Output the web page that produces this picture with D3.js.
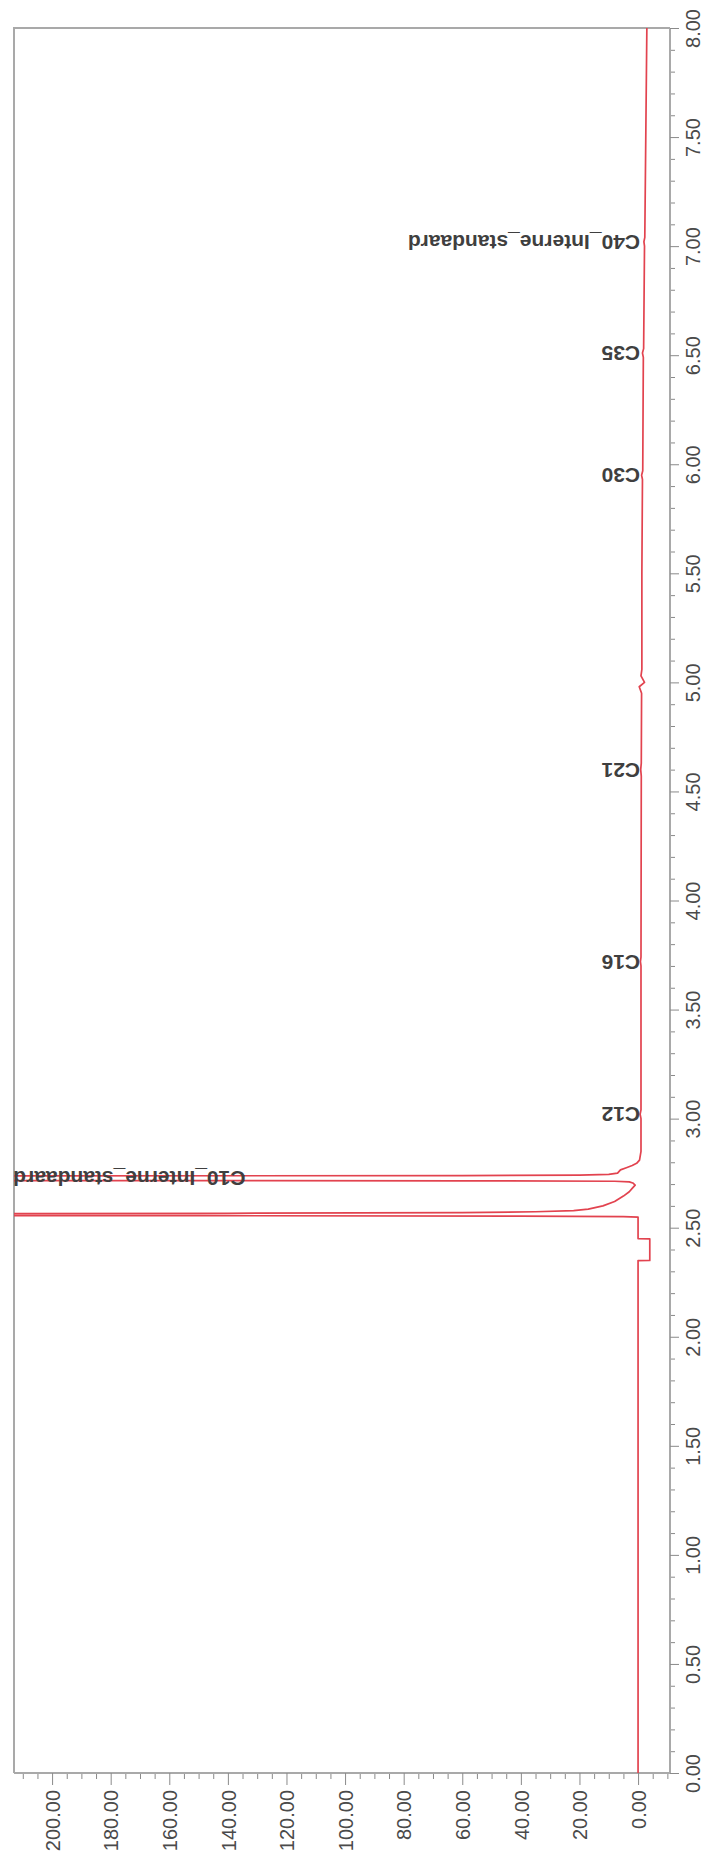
<!DOCTYPE html>
<html>
<head>
<meta charset="utf-8">
<script src="https://d3js.org/d3.v7.min.js"></script>
<style>
  body { margin: 0; background: #fff; }
  svg { display: block; }
  .tick text { font-family: "Liberation Sans", Arial, sans-serif; }
</style>
</head>
<body>
<svg id="chrom" width="726" height="1855"></svg>
<script>
'use strict'

// chromatogram, drawn turned on its side: time runs up, signal runs left

// retention time (min) and detector signal
var timeMin = [0.00, 1.00, 2.00, 2.349, 2.350, 2.449, 2.450, 2.548,
    2.551, 2.553, 2.555, 2.557, 2.563, 2.566, 2.569, 2.573, 2.578, 2.585,
    2.600, 2.620, 2.645, 2.665, 2.680, 2.695, 2.705, 2.710, 2.713, 2.715,
    2.717, 2.736, 2.739, 2.741, 2.744, 2.750, 2.765, 2.775, 2.785, 2.795,
    2.810, 2.850, 3.00, 3.02, 3.04, 3.70, 3.72, 3.74, 4.57, 4.60, 4.63,
    4.95, 4.98, 5.00, 5.03, 5.06, 5.50, 5.93, 5.95, 5.97, 6.49, 6.51, 6.53,
    7.00, 7.02, 7.04, 8.00];
var signal = [0, 0, 0, 0, -4, -4, 0, 0,
    5, 40, 150, 320, 320, 140, 60, 35, 22, 17,
    12, 8, 5, 3, 2, 1.0, 1.8, 3, 8, 60,
    320, 320, 60, 20, 10, 7, 6, 4, 2, 0.5,
    -0.5, -1, -1, -0.7, -1, -1, -0.8, -1, -1.1, -0.9, -1.1,
    -1.2, -0.4, -2.2, -1.0, -1.3, -1.3, -1.5, -1.2, -1.6, -1.8, -1.5, -1.9,
    -2.2, -2.0, -2.3, -3.0];

// named peaks
var peakNames = ["C10_Interne_standaard", "C12", "C16", "C21", "C30", "C35", "C40_Interne_standaard"];
var peakTimes = [2.728, 3.02, 3.72, 4.60, 5.95, 6.51, 7.02];

// axis ticks
var signalTicks = [0, 20, 40, 60, 80, 100, 120, 140, 160, 180, 200];
var timeTicks = [0, 0.5, 1, 1.5, 2, 2.5, 3, 3.5, 4, 4.5, 5, 5.5, 6, 6.5, 7, 7.5, 8];

var svg = d3.select("#chrom");
var plotLeft = 14, plotRight = 670, plotTop = 28, plotBottom = 1773;
var red = "#e2434f", frameGrey = "#a9a9a9", textGrey = "#4a4a4a";

var timeScale = d3.scaleLinear().domain([0, 8]).range([plotBottom, plotTop]);
var signalScale = d3.scaleLinear().domain([-10.9, 213]).range([plotRight, plotLeft]);

// frame (left + top)
svg.append("path")
    .attr("d", "M" + plotLeft + "," + plotBottom + "V" + plotTop + "H" + plotRight)
    .attr("fill", "none").attr("stroke", frameGrey).attr("stroke-width", 2);

// signal axis along the bottom
var fmt = d3.format(".2f");
var minorSignal = d3.range(-10, 213, 5).filter(function(v){ return v % 20 !== 0; });

var sAxis = svg.append("g").attr("transform", "translate(0," + plotBottom + ")");
sAxis.call(d3.axisBottom(signalScale).tickValues(minorSignal).tickSize(6).tickFormat(""));
sAxis.append("g").call(d3.axisBottom(signalScale).tickValues(signalTicks).tickSize(12).tickFormat(fmt));
sAxis.selectAll(".domain").attr("stroke", frameGrey).attr("stroke-width", 2)
    .attr("d", "M" + plotLeft + ",0H" + plotRight);
sAxis.selectAll(".tick line").attr("stroke", "#8a8a8a");
sAxis.selectAll(".tick text")
    .attr("fill", textGrey).attr("font-size", 20)
    .attr("text-anchor", "end")
    .attr("transform", "rotate(-90)")
    .attr("x", -17).attr("y", 0).attr("dy", "0.36em");

// time axis along the right side
var minorTime = d3.range(1, 80).map(function(v){ return v / 10; })
    .filter(function(v){ return Math.round(v * 10) % 5 !== 0; });

var tAxis = svg.append("g").attr("transform", "translate(" + plotRight + ",0)");
tAxis.call(d3.axisRight(timeScale).tickValues(minorTime).tickSize(5).tickFormat(""));
tAxis.append("g").call(d3.axisRight(timeScale).tickValues(timeTicks).tickSize(9).tickFormat(fmt));
tAxis.selectAll(".domain").attr("stroke", frameGrey).attr("stroke-width", 2)
    .attr("d", "M0," + plotBottom + "V" + plotTop);
tAxis.selectAll(".tick line").attr("stroke", "#8a8a8a");
tAxis.selectAll(".tick text")
    .attr("fill", textGrey).attr("font-size", 20)
    .attr("text-anchor", "middle")
    .attr("transform", "rotate(-90)")
    .attr("x", 0).attr("y", 30).attr("dy", "0");

// clip the off-scale peaks at the frame
svg.append("clipPath").attr("id", "plotClip")
    .append("rect")
    .attr("x", plotLeft).attr("y", plotTop)
    .attr("width", plotRight - plotLeft).attr("height", plotBottom - plotTop);

var trace = timeMin.map(function(t, i){ return {t: t, v: signal[i]}; });

var line = d3.line()
    .x(function(d){ return signalScale(d.v); })
    .y(function(d){ return timeScale(d.t); });

svg.append("path")
    .datum(trace)
    .attr("clip-path", "url(#plotClip)")
    .attr("d", line)
    .attr("fill", "none")
    .attr("stroke", red)
    .attr("stroke-width", 1.7)
    .attr("stroke-linejoin", "round");

// peak labels, upside down like the printout
svg.selectAll(".peakLabel")
    .data(peakNames)
    .enter()
    .append("text")
    .attr("class", "peakLabel")
    .attr("transform", function(d, i){
        // the internal standard peak is off-scale, its label sits out on the peak
        var x = i === 0 ? signalScale(134) : signalScale(0) + 2;
        var y = timeScale(peakTimes[i]) - 7;
        return "translate(" + x + "," + y + ") rotate(180)";
    })
    .attr("font-family", "'Liberation Sans', Arial, sans-serif")
    .attr("font-size", 21)
    .attr("font-weight", "bold")
    .attr("fill", "#3f3f3f")
    .text(function(d){ return d; });
</script>
</body>
</html>
